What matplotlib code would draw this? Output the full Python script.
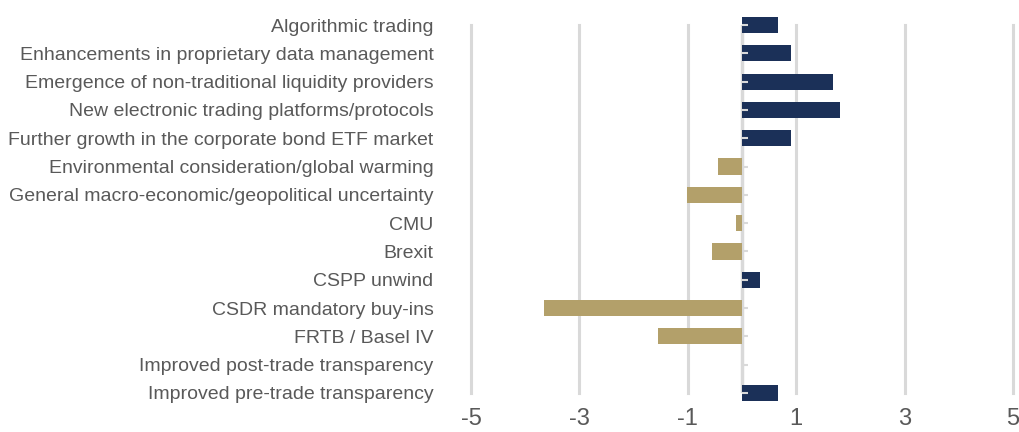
import numpy as np
import matplotlib.pyplot as plt

plt.rcParams['font.family'] = ['Liberation Sans', 'DejaVu Sans']

categories = [
    "Algorithmic trading",
    "Enhancements in proprietary data management",
    "Emergence of non-traditional liquidity providers",
    "New electronic trading platforms/protocols",
    "Further growth in the corporate bond ETF market",
    "Environmental consideration/global warming",
    "General macro-economic/geopolitical uncertainty",
    "CMU",
    "Brexit",
    "CSPP unwind",
    "CSDR mandatory buy-ins",
    "FRTB / Basel IV",
    "Improved post-trade transparency",
    "Improved pre-trade transparency",
]
scores = [0.66, 0.9, 1.68, 1.81, 0.9, -0.44, -1.01, -0.11, -0.56, 0.33, -3.65, -1.55, 0.0, 0.66]
xticks = [-5, -3, -1, 1, 3, 5]

navy = "#1b3058"
gold = "#b3a06a"
grid_col = "#d9d9d9"
text_col = "#595959"

y = np.arange(len(categories))
colors = [navy if v > 0 else gold for v in scores]

fig = plt.figure(figsize=(10.2, 4.32), dpi=100)
ax = fig.add_axes([0.4618, 0.0903, 0.9931 - 0.4618, 0.9421 - 0.0903])

ax.barh(y, scores, height=0.57, color=colors, clip_on=False, zorder=3)

ax.set_xlim(-5, 5)
ax.set_ylim(len(categories) - 1, 0)
ax.set_xticks(xticks)
ax.set_xticklabels([str(t) for t in xticks])
ax.set_yticks(y)
ax.set_yticklabels(categories)

ax.grid(axis='x', color=grid_col, linewidth=2.2)
for gl in ax.get_xgridlines():
    gl.set_clip_on(False)
ax.set_axisbelow(True)
ax.axvline(0, color=grid_col, linewidth=2.5, zorder=2)
# little category ticks on the zero axis
ax.plot(np.zeros(len(y)), y, marker=1, ls='none', ms=4, mew=1.5, color=grid_col,
        clip_on=False, zorder=4)

for s in ax.spines.values():
    s.set_visible(False)

ax.tick_params(axis='y', length=0, pad=27, labelsize=14, labelcolor=text_col)
ax.tick_params(axis='x', length=0, pad=11, labelsize=17, labelcolor=text_col)

fig.savefig("out.png", dpi=100)
